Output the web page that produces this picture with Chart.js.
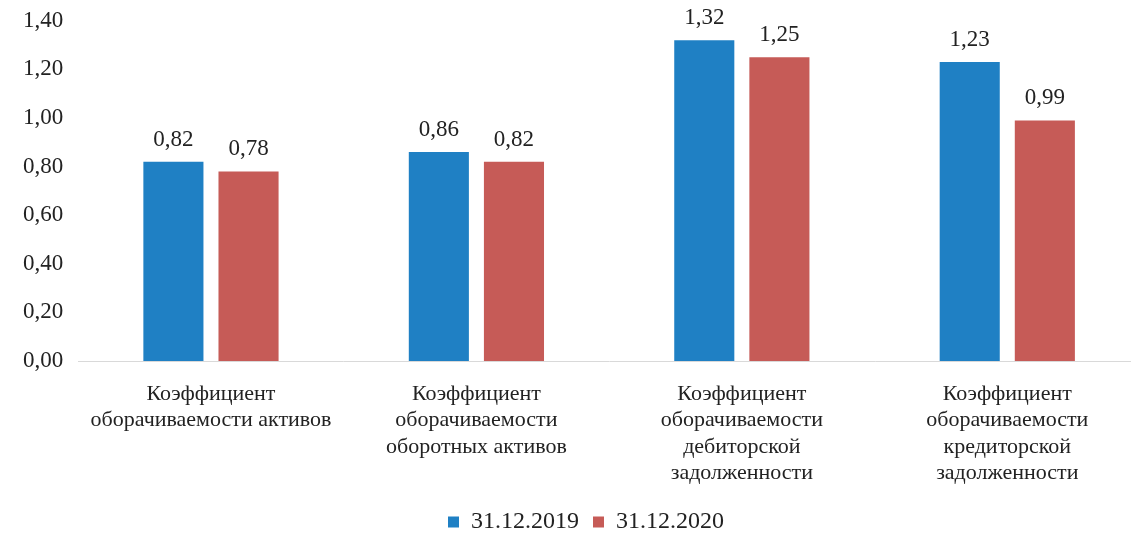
<!DOCTYPE html>
<html><head><meta charset="utf-8">
<script src="https://cdn.jsdelivr.net/npm/chart.js@4/dist/chart.umd.min.js"></script>
<style>html,body{margin:0;padding:0;background:#fff;overflow:hidden;}#wrap{width:1172px;height:537px;}</style>
</head><body><div id="wrap"><canvas id="c"></canvas></div>
<script>
const categories = [
  ["Коэффициент", "оборачиваемости активов"],
  ["Коэффициент", "оборачиваемости", "оборотных активов"],
  ["Коэффициент", "оборачиваемости", "дебиторской", "задолженности"],
  ["Коэффициент", "оборачиваемости", "кредиторской", "задолженности"]
];
const seriesNames = ["31.12.2019", "31.12.2020"];
const values2019 = [0.82, 0.86, 1.32, 1.23];
const values2020 = [0.78, 0.82, 1.25, 0.99];
const fmt = v => v.toFixed(2).replace('.', ',');
const FONT = 'Liberation Serif';

const labelPlugin = {
  id: 'vals',
  afterLayout(chart) {
    const lg = chart.legend;
    if (lg) { lg.top += 7; lg.bottom += 7; lg.left += 8; lg.right += 8; }
  },
  afterDatasetsDraw(chart) {
    const ctx = chart.ctx;
    ctx.save();
    ctx.font = '23px "' + FONT + '"';
    ctx.fillStyle = '#222';
    ctx.textAlign = 'center';
    ctx.textBaseline = 'alphabetic';
    chart.data.datasets.forEach((ds, i) => {
      chart.getDatasetMeta(i).data.forEach((bar, j) => {
        ctx.fillText(fmt(ds.data[j]), bar.x, bar.y - 16);
      });
    });
    ctx.restore();
  }
};

new Chart(document.getElementById('c'), {
  type: 'bar',
  data: {
    labels: categories,
    datasets: [
      { label: seriesNames[0], data: values2019, backgroundColor: '#1f80c4' },
      { label: seriesNames[1], data: values2020, backgroundColor: '#c65b57' }
    ]
  },
  options: {
    responsive: true, maintainAspectRatio: false, animation: false,
    layout: { padding: { top: 5, right: 32, left: 16, bottom: 0 } },
    datasets: { bar: { barPercentage: 0.8, categoryPercentage: 0.566 } },
    plugins: {
      legend: {
        position: 'bottom',
        labels: { font: { family: FONT, size: 24 }, color: '#222', boxWidth: 11, boxHeight: 11, padding: 14 }
      },
      tooltip: { enabled: false }
    },
    scales: {
      x: {
        grid: { display: false },
        border: { display: true, color: '#d9d9d9' },
        ticks: { font: { family: FONT, size: 22, lineHeight: 1.2 }, color: '#222', maxRotation: 0, autoSkip: false, padding: 12 },
        afterFit(scale) { scale.height = 128; }
      },
      y: {
        min: 0, max: 1.4,
        grid: { display: false },
        border: { display: false },
        ticks: { stepSize: 0.2, font: { family: FONT, size: 23 }, color: '#222', padding: 7, callback: v => fmt(v) }
      }
    }
  },
  plugins: [labelPlugin]
});
</script></body></html>
